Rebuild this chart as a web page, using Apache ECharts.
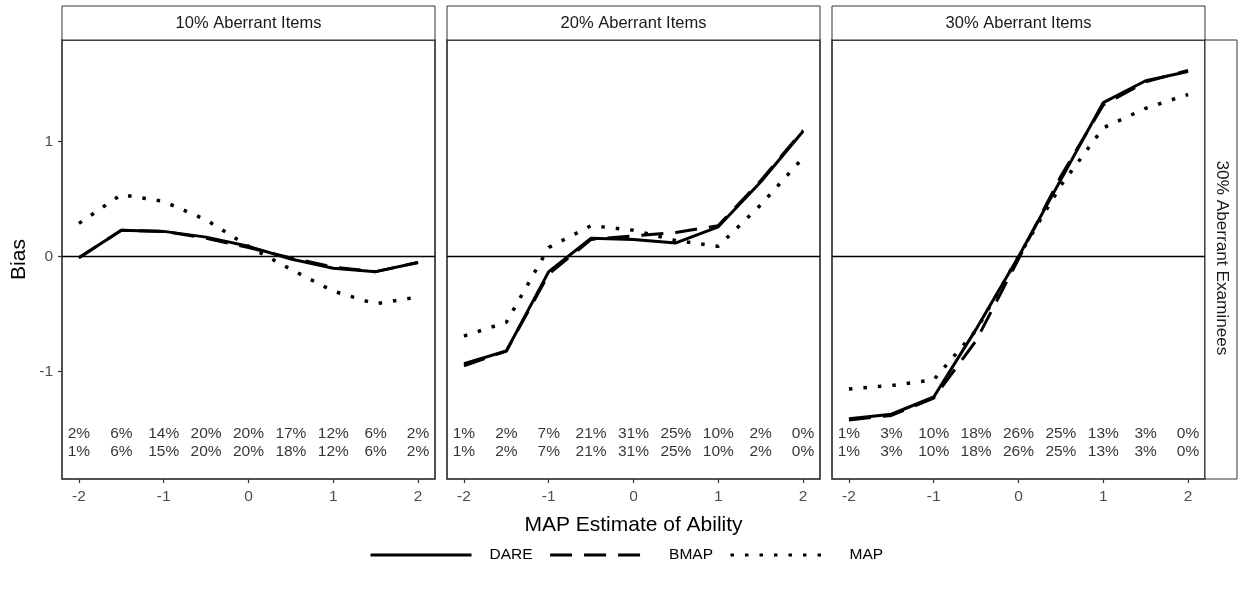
<!DOCTYPE html>
<html>
<head>
<meta charset="utf-8">
<script src="https://cdn.jsdelivr.net/npm/echarts@6/dist/echarts.min.js"></script>
<style>
  html, body { margin: 0; padding: 0; background: #fff; }
  #chart { width: 1238px; height: 596px; }
</style>
</head>
<body>
<div id="chart"></div>
<script>
// Ability grid points (MAP estimate)
const abilityPoints = [-2, -1.5, -1, -0.5, 0, 0.5, 1, 1.5, 2];
const xTicks = [-2, -1, 0, 1, 2];
const yTicks = [-1, 0, 1];

// Panel headers
const panelTitles = ['10% Aberrant Items', '20% Aberrant Items', '30% Aberrant Items'];
const rowTitle = '30% Aberrant Examinees';
const methodNames = ['DARE', 'BMAP', 'MAP'];

// Bias by method, one array per panel
const dare10 = [-0.01, 0.23, 0.22, 0.17, 0.09, -0.02, -0.10, -0.13, -0.05];
const bmap10 = [-0.01, 0.23, 0.22, 0.16, 0.08, -0.01, -0.09, -0.13, -0.05];
const map10  = [0.29, 0.54, 0.48, 0.32, 0.09, -0.11, -0.30, -0.41, -0.35];

const dare20 = [-0.93, -0.82, -0.13, 0.16, 0.15, 0.12, 0.26, 0.65, 1.09];
const bmap20 = [-0.95, -0.82, -0.15, 0.15, 0.18, 0.21, 0.27, 0.66, 1.10];
const map20  = [-0.69, -0.57, 0.08, 0.27, 0.23, 0.14, 0.09, 0.45, 0.86];

const dare30 = [-1.41, -1.37, -1.22, -0.63, 0.00, 0.67, 1.34, 1.53, 1.61];
const bmap30 = [-1.42, -1.38, -1.23, -0.73, -0.02, 0.70, 1.32, 1.52, 1.62];
const map30  = [-1.15, -1.12, -1.07, -0.64, 0.00, 0.62, 1.12, 1.29, 1.41];

// Share of examinees in each ability bin (two rows per panel)
const pctTop10 = ['2%', '6%', '14%', '20%', '20%', '17%', '12%', '6%', '2%'];
const pctBot10 = ['1%', '6%', '15%', '20%', '20%', '18%', '12%', '6%', '2%'];
const pctTop20 = ['1%', '2%', '7%', '21%', '31%', '25%', '10%', '2%', '0%'];
const pctBot20 = ['1%', '2%', '7%', '21%', '31%', '25%', '10%', '2%', '0%'];
const pctTop30 = ['1%', '3%', '10%', '18%', '26%', '25%', '13%', '3%', '0%'];
const pctBot30 = ['1%', '3%', '10%', '18%', '26%', '25%', '13%', '3%', '0%'];

const panels = [
  { DARE: dare10, BMAP: bmap10, MAP: map10, pct: [pctTop10, pctBot10] },
  { DARE: dare20, BMAP: bmap20, MAP: map20, pct: [pctTop20, pctBot20] },
  { DARE: dare30, BMAP: bmap30, MAP: map30, pct: [pctTop30, pctBot30] }
];

const FONT = '"Liberation Sans", Arial, Helvetica, sans-serif';
const GRID_LEFT = [62, 447, 832];
const GRID_W = 373, GRID_TOP = 40, GRID_H = 439;
const PCT_ROW_Y = [-1.535, -1.70];

const lineStyles = {
  DARE: { color: '#000', width: 3, type: 'solid' },
  BMAP: { color: '#000', width: 3, type: [22, 12] },
  MAP:  { color: '#000', width: 3.5, type: [3.5, 11] }
};

const grids = [], xAxes = [], yAxes = [], series = [], graphics = [];

panels.forEach((p, i) => {
  grids.push({
    left: GRID_LEFT[i], top: GRID_TOP, width: GRID_W, height: GRID_H,
    show: true, borderColor: '#1a1a1a', borderWidth: 1.5, backgroundColor: '#fff'
  });
  xAxes.push({
    type: 'value', gridIndex: i, min: -2.2, max: 2.2,
    axisLine: { show: false, onZero: false },
    axisTick: { show: true, length: 4, customValues: xTicks, lineStyle: { color: '#333', width: 1.2 } },
    axisLabel: { customValues: xTicks, color: '#4d4d4d', fontSize: 15.5, fontFamily: FONT, margin: 10 },
    splitLine: { show: false },
    name: i === 1 ? 'MAP Estimate of Ability' : '',
    nameLocation: 'middle', nameGap: 36,
    nameTextStyle: { color: '#000', fontSize: 21, fontFamily: FONT }
  });
  yAxes.push({
    type: 'value', gridIndex: i, min: -1.933, max: 1.884,
    axisLine: { show: false, onZero: false },
    axisTick: { show: i === 0, length: 4, customValues: yTicks, lineStyle: { color: '#333', width: 1.2 } },
    axisLabel: { show: i === 0, customValues: yTicks, color: '#4d4d4d', fontSize: 15.5, fontFamily: FONT, margin: 9 },
    splitLine: { show: false },
    name: i === 0 ? 'Bias' : '',
    nameLocation: 'middle', nameGap: 32,
    nameTextStyle: { color: '#000', fontSize: 21, fontFamily: FONT }
  });

  methodNames.forEach((m) => {
    const s = {
      name: m, type: 'line', xAxisIndex: i, yAxisIndex: i,
      data: abilityPoints.map((x, k) => [x, p[m][k]]),
      symbol: 'none', showSymbol: false,
      itemStyle: { color: '#000' },
      lineStyle: lineStyles[m], silent: true, z: 3
    };
    if (m === 'DARE') {
      s.markLine = {
        silent: true, symbol: 'none', label: { show: false }, animation: false,
        lineStyle: { color: '#000', width: 1.3, type: 'solid' },
        data: [{ yAxis: 0 }]
      };
    }
    series.push(s);
  });

  // Bin share labels, two rows
  p.pct.forEach((row, r) => {
    series.push({
      type: 'scatter', xAxisIndex: i, yAxisIndex: i, silent: true,
      symbolSize: 1, itemStyle: { color: 'rgba(0,0,0,0)' },
      data: abilityPoints.map((x, k) => ({ value: [x, PCT_ROW_Y[r]], name: row[k] })),
      label: {
        show: true, position: 'inside', formatter: '{b}',
        color: '#000', fontSize: 15.5, fontFamily: FONT
      },
      z: 4
    });
  });

  // Facet strip above each panel
  graphics.push({
    type: 'rect', shape: { x: GRID_LEFT[i], y: 6, width: GRID_W, height: 34 },
    style: { fill: '#fff', stroke: '#333', lineWidth: 1 }, z: 1
  });
  graphics.push({
    type: 'text', x: GRID_LEFT[i] + GRID_W / 2, y: 23,
    style: { text: panelTitles[i], fill: '#1a1a1a', font: '16.5px ' + FONT, align: 'center', verticalAlign: 'middle' },
    z: 2
  });
});

// Row strip on the right
graphics.push({
  type: 'rect', shape: { x: 1205, y: GRID_TOP, width: 32, height: GRID_H },
  style: { fill: '#fff', stroke: '#333', lineWidth: 1 }, z: 1
});
graphics.push({
  type: 'text', x: 1222, y: 258, rotation: -Math.PI / 2,
  style: { text: rowTitle, fill: '#1a1a1a', font: '17.2px ' + FONT, align: 'center', verticalAlign: 'middle' },
  z: 2
});

const chart = echarts.init(document.getElementById('chart'), null, { renderer: 'canvas' });
chart.setOption({
  animation: false,
  backgroundColor: '#fff',
  grid: grids,
  xAxis: xAxes,
  yAxis: yAxes,
  series: series,
  graphic: graphics,
  legend: {
    data: methodNames,
    left: 369, top: 547, padding: 0,
    itemWidth: 101, itemHeight: 18, itemGap: 16,
    lineStyle: { width: 3 },
    itemStyle: { color: 'rgba(0,0,0,0)', borderWidth: 0, opacity: 0 },
    textStyle: { color: '#000', fontSize: 15.5, fontFamily: FONT, padding: [0, 0, 0, 13] },
    selectedMode: false
  }
});
</script>
</body>
</html>
